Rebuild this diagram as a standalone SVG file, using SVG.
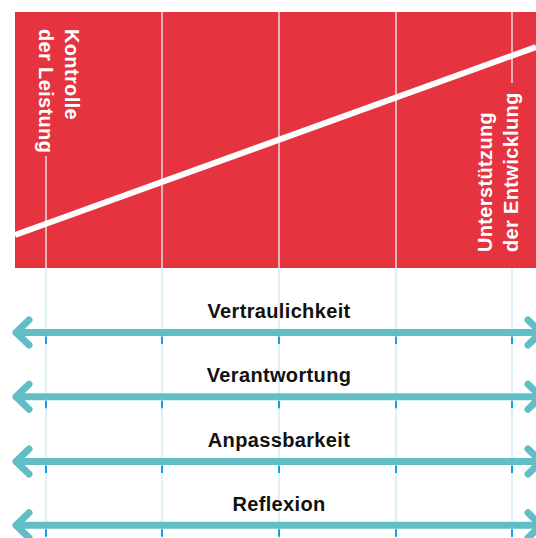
<svg xmlns="http://www.w3.org/2000/svg" width="536" height="538" viewBox="0 0 536 538">
  <style>
    .panel { fill: #e5333f; }
    .grid-red { stroke: #eef3f7; stroke-width: 1.3; }
    .grid { stroke: #d2eaf6; stroke-width: 1.4; }
    .trend { stroke: #ffffff; stroke-width: 6; fill: none; }
    .axis { font-family: "Liberation Sans", Arial, sans-serif; font-weight: bold; font-size: 20px; letter-spacing: 0.35px; fill: #ffffff; }
    .label { font-family: "Liberation Sans", Arial, sans-serif; font-weight: bold; font-size: 20px; letter-spacing: 0.35px; fill: #111111; text-anchor: middle; }
    .arrow { stroke: #62bec6; stroke-width: 7; fill: none; stroke-linecap: round; stroke-linejoin: round; }
    .tick { stroke: #129fe3; stroke-width: 2; }
  </style>

  <g id="panel">
    <rect class="panel" x="15" y="12" width="521" height="256"/>
    <line class="grid-red" x1="46" y1="156" x2="46" y2="268"/>
    <line class="grid-red" x1="162" y1="12" x2="162" y2="268"/>
    <line class="grid-red" x1="279" y1="12" x2="279" y2="268"/>
    <line class="grid-red" x1="396" y1="12" x2="396" y2="268"/>
    <line class="grid-red" x1="512" y1="12" x2="512" y2="83"/>
    <line class="trend" x1="15" y1="235" x2="536" y2="47"/>
  </g>

  <g id="label-kontrolle">
    <text class="axis" transform="translate(65,29) rotate(90)">Kontrolle</text>
    <text class="axis" transform="translate(38.5,29) rotate(90)">der Leistung</text>
  </g>

  <g id="label-unterstuetzung">
    <text class="axis" transform="translate(492,252) rotate(-90)">Unterstützung</text>
    <text class="axis" transform="translate(518,252) rotate(-90)">der Entwicklung</text>
  </g>

  <g id="grid">
    <line class="grid" x1="46" y1="268" x2="46" y2="538"/>
    <line class="grid" x1="162" y1="268" x2="162" y2="538"/>
    <line class="grid" x1="279" y1="268" x2="279" y2="538"/>
    <line class="grid" x1="396" y1="268" x2="396" y2="538"/>
    <line class="grid" x1="512" y1="268" x2="512" y2="538"/>
  </g>

  <g id="connectors">
    <g id="arrow-1">
      <path class="arrow" d="M16 332.5 H541 M29 320 L16 332.5 L29 345 M528 320 L541 332.5 L528 345"/>
    </g>
    <g id="arrow-2">
      <path class="arrow" d="M16 396.8 H541 M29 384.3 L16 396.8 L29 409.3 M528 384.3 L541 396.8 L528 409.3"/>
    </g>
    <g id="arrow-3">
      <path class="arrow" d="M16 461.5 H541 M29 449 L16 461.5 L29 474 M528 449 L541 461.5 L528 474"/>
    </g>
    <g id="arrow-4">
      <path class="arrow" d="M16 525.3 H541 M29 512.8 L16 525.3 L29 537.8 M528 512.8 L541 525.3 L528 537.8"/>
    </g>
  </g>

  <g id="ticks">
    <path class="tick" d="M46 336.5 V344 M162 336.5 V344 M279 336.5 V344 M396 336.5 V344 M512 336.5 V344"/>
    <path class="tick" d="M46 400.8 V408.3 M162 400.8 V408.3 M279 400.8 V408.3 M396 400.8 V408.3 M512 400.8 V408.3"/>
    <path class="tick" d="M46 465.5 V473 M162 465.5 V473 M279 465.5 V473 M396 465.5 V473 M512 465.5 V473"/>
    <path class="tick" d="M46 529.3 V536.8 M162 529.3 V536.8 M279 529.3 V536.8 M396 529.3 V536.8 M512 529.3 V536.8"/>
  </g>

  <g id="node-vertraulichkeit">
    <text class="label" x="279" y="318">Vertraulichkeit</text>
  </g>
  <g id="node-verantwortung">
    <text class="label" x="279" y="382">Verantwortung</text>
  </g>
  <g id="node-anpassbarkeit">
    <text class="label" x="279" y="446.5">Anpassbarkeit</text>
  </g>
  <g id="node-reflexion">
    <text class="label" x="279" y="510.5">Reflexion</text>
  </g>
</svg>
